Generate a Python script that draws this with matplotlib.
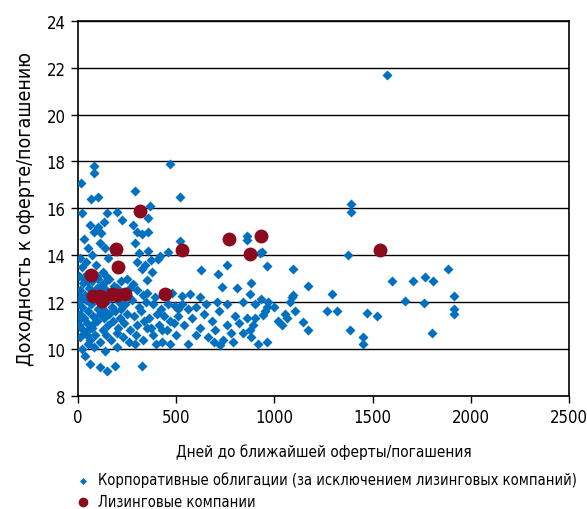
import matplotlib.pyplot as plt

plt.rcParams['font.family'] = ['DejaVu Sans']
plt.rcParams['font.stretch'] = 'condensed'

# Корпоративные облигации (дни, доходность)
corp_days = [
    82, 82, 15, 468, 290, 66, 102, 519, 367, 20, 148, 199, 224, 356,
    60, 80, 100, 115, 130, 280, 300, 326, 356, 30, 50, 70, 110, 135, 150,
    290, 310, 355, 370, 340, 417, 458, 10, 20, 40, 60, 90, 100, 125, 30, 45,
    5, 25, 45, 70, 95, 130, 160, 185, 220, 250, 280,
    10, 35, 55, 85, 115, 140, 170, 200, 230, 265, 300, 330,
    0, 20, 40, 65, 90, 120, 150, 175, 210, 240, 275, 310, 345, 380,
    8, 30, 50, 75, 100, 130, 160, 190, 215, 250, 285, 320, 360, 400, 440,
    3, 25, 48, 72, 98, 125, 155, 180, 205, 235, 265, 300, 335, 370, 410, 455, 490,
    10, 35, 60, 85, 110, 140, 170, 200, 230, 260, 295, 330, 380, 430,
    20, 50, 80, 137, 199, 290, 468,
    36, 61, 112, 148, 188, 326,
    15, 60, 105, 135, 80, 45, 110, 15, 95, 140, 60, 180, 255, 220,
    350, 390, 420, 460, 494, 509, 530, 530, 570, 470, 510, 430, 500, 540, 560,
    395, 350, 480, 300, 326, 377, 350, 407,
    600, 640, 680, 720, 760, 800, 840, 620, 660, 700, 740, 780, 820, 860, 580,
    600, 650, 690, 723, 760, 790, 876, 890, 901, 880, 917, 560, 620, 710,
    733, 810, 881, 876, 840, 901, 930, 967, 950, 960, 942, 962,
    626, 713, 759, 962, 927, 937, 860, 860, 519,
    1039, 1054, 1065, 1080, 1090, 1095, 1105, 1146, 1171, 1171, 1095, 1000, 1020,
    1268, 1293, 1319, 1375, 1385, 1390, 1390, 1451, 1451, 1471, 1522, 1573,
    1599, 1665, 1706, 1767, 1807, 1762, 1802, 1884, 1914, 1914, 1914,
]
corp_yield = [
    17.8, 17.5, 17.1, 17.9, 16.75, 16.4, 16.5, 16.5, 16.1, 15.8, 15.8, 15.85, 15.5, 15.6,
    15.3, 15.0, 15.2, 14.95, 15.4, 15.3, 15.0, 14.9, 15.0, 14.7, 14.3, 14.0, 14.5, 14.3, 13.9,
    14.5, 14.1, 14.2, 13.8, 13.6, 13.95, 14.15, 13.9, 13.5, 13.7, 13.2, 13.6, 13.0, 13.3, 13.0, 12.9,
    13.1, 12.8, 13.2, 12.9, 13.1, 12.8, 13.0, 12.7, 12.9, 13.0, 12.75,
    12.5, 12.3, 12.6, 12.4, 12.7, 12.5, 12.3, 12.6, 12.4, 12.6, 12.5, 12.3,
    12.0, 11.8, 12.1, 11.9, 12.2, 11.9, 12.1, 11.8, 12.0, 11.9, 12.1, 11.8, 12.0, 11.9,
    11.5, 11.3, 11.6, 11.4, 11.7, 11.3, 11.5, 11.6, 11.3, 11.5, 11.4, 11.6, 11.3, 11.5, 11.4,
    11.0, 10.8, 11.1, 10.9, 11.2, 10.8, 11.0, 11.2, 10.9, 11.1, 10.8, 11.0, 11.2, 10.9, 11.0, 10.8, 11.1,
    10.5, 10.7, 10.4, 10.6, 10.3, 10.6, 10.4, 10.7, 10.5, 10.3, 10.6, 10.4, 10.6, 10.3,
    10.0, 10.2, 10.1, 9.9, 10.1, 10.2, 10.2,
    9.7, 9.37, 9.24, 9.07, 9.28, 9.28,
    12.2, 12.2, 12.0, 11.6, 11.1, 10.6, 11.5, 11.3, 12.6, 13.1, 10.9, 12.4, 12.25, 11.7,
    12.4, 12.2, 11.7, 11.9, 11.85, 11.7, 11.9, 12.27, 12.35, 11.2, 11.4, 10.8, 10.6, 11.0, 10.2,
    10.2, 10.9, 12.4, 13.7, 13.4, 13.3, 12.95, 13.85,
    11.8, 11.5, 11.2, 11.6, 11.0, 11.4, 10.7, 10.9, 10.5, 10.8, 10.4, 10.7, 11.1, 11.3, 11.3,
    10.6, 11.9, 10.3, 10.15, 11.9, 10.3, 10.8, 11.0, 11.3, 10.5, 10.2, 11.7, 12.2, 12.0,
    12.65, 12.6, 12.8, 12.35, 12.0, 11.9, 12.15, 12.0, 11.6, 11.8, 11.45, 10.3,
    13.35, 13.2, 13.6, 13.55, 14.1, 14.15, 14.83, 14.65, 14.6,
    11.0, 11.5, 11.3, 12.0, 12.2, 12.3, 11.6, 11.15, 10.8, 12.7, 13.4, 11.8, 11.2,
    11.6, 12.35, 11.6, 14.0, 10.8, 16.2, 15.85, 10.5, 10.2, 11.55, 11.4, 21.7,
    12.9, 12.05, 12.9, 13.05, 12.9, 11.97, 10.7, 13.4, 12.27, 11.7, 11.5,
]

# Лизинговые компании
lease_days = [66, 76, 112, 122, 173, 199, 239, 443, 204, 194, 316, 530, 769, 932, 876, 1538]
lease_yield = [13.15, 12.27, 12.27, 12.05, 12.35, 12.3, 12.35, 12.35, 13.5, 14.27,
               15.9, 14.23, 14.7, 14.83, 14.06, 14.23]

fig = plt.figure(figsize=(5.87, 5.10), dpi=100)
ax = fig.add_axes([0.133, 0.222, 0.836, 0.735])

ax.scatter(corp_days, corp_yield, marker='D', s=26, color='#0070C0', linewidths=0,
           label='Корпоративные облигации (за исключением лизинговых компаний)', zorder=3)
ax.scatter(lease_days, lease_yield, marker='o', s=100, color='#8B0A1E', linewidths=0,
           label='Лизинговые компании', zorder=4)

ax.set_xlim(0, 2500)
ax.set_ylim(8, 24)
ax.set_xticks(range(0, 2501, 500))
ax.set_yticks(range(8, 25, 2))
ax.yaxis.grid(True, color='black', linewidth=1.0)
ax.set_axisbelow(True)
ax.tick_params(labelsize=12, length=5, width=1, direction='out', pad=4)
for sp in ax.spines.values():
    sp.set_linewidth(1.2)

ax.set_xlabel('Дней до ближайшей оферты/погашения', fontsize=11, labelpad=12)
ax.set_ylabel('Доходность к оферте/погашению', fontsize=14, labelpad=8)

fig.legend(loc='lower left', bbox_to_anchor=(0.1, -0.02), frameon=False, fontsize=10.5,
           handletextpad=0.0, labelspacing=0.45, markerscale=0.7, borderpad=0.2)

fig.savefig('out.png', dpi=100)
